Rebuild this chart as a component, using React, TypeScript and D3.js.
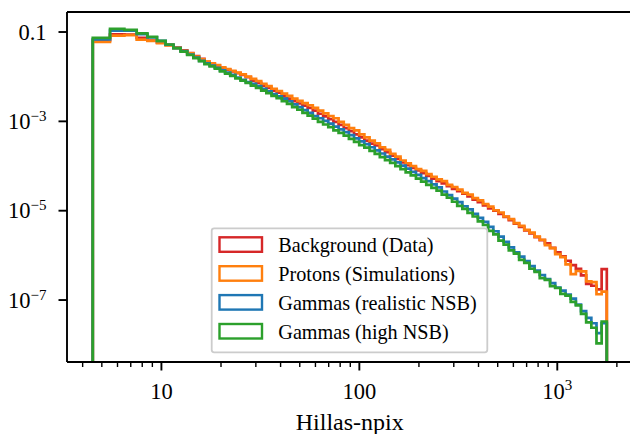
import React from 'react';
import * as d3 from 'd3';

// Bin edges of the Hillas-npix histogram (integer-wide bins at low npix, log-spaced above)
const binEdges = [4.5, 5.5, 6.5, 7.5, 8.5, 9.5, 10.5, 11.5, 12.5, 13.5, 14.5, 15.5, 16.5,
  17.52, 18.61, 19.76, 20.98, 22.27, 23.65, 25.11, 26.67, 28.32, 30.07, 31.93, 33.9, 36.0, 38.23,
  40.59, 43.1, 45.77, 48.6, 51.6, 54.8, 58.19, 61.79, 65.61, 69.67, 73.96, 78.54, 83.4, 88.56,
  94.03, 99.84, 106.0, 112.6, 119.6, 126.9, 134.8, 143.1, 152.0, 161.4, 171.4, 181.9, 193.2,
  205.1, 217.8, 231.3, 245.6, 260.8, 276.9, 294.0, 312.2, 331.5, 352.0, 373.8, 396.9, 421.4,
  447.5, 475.2, 504.6, 535.8, 568.9, 604.1, 641.5, 681.2, 723.3, 768.0, 815.5, 865.9, 919.5,
  976.3, 1036.7, 1100.8, 1168.9, 1241.2, 1317.9, 1399.4, 1485.9, 1577.8, 1675.4, 1779.0];

// log10 of the normalised counts per bin
const backgroundLog = [-1.19, -1.05, -1.06, -1.13, -1.19, -1.24, -1.29, -1.35, -1.41, -1.47, -1.54, -1.60,
  -1.67, -1.71, -1.75, -1.80, -1.84, -1.88, -1.92, -1.96, -2.01, -2.09,
  -2.14, -2.20, -2.25, -2.31, -2.36, -2.44, -2.49, -2.55, -2.60, -2.65,
  -2.70, -2.76, -2.83, -2.89, -2.95, -3.01, -3.08, -3.15, -3.22, -3.29,
  -3.36, -3.43, -3.50, -3.54, -3.62, -3.69, -3.77, -3.84, -3.92, -3.98,
  -4.04, -4.10, -4.16, -4.22, -4.28, -4.34, -4.39, -4.45, -4.51, -4.56,
  -4.62, -4.68, -4.75, -4.81, -4.88, -4.95, -5.00, -5.07, -5.14, -5.21,
  -5.29, -5.36, -5.44, -5.51, -5.59, -5.66, -5.73, -5.83, -5.93, -6.02,
  -6.12, -6.22, -6.30, -6.45, -6.64, -6.68, -6.76, -6.31];

const protonsLog = [-1.22, -1.08, -1.07, -1.17, -1.20, -1.25, -1.30, -1.36, -1.42, -1.48, -1.55, -1.61,
  -1.66, -1.70, -1.74, -1.79, -1.83, -1.87, -1.91, -1.95, -2.00, -2.05,
  -2.10, -2.16, -2.21, -2.27, -2.32, -2.38, -2.43, -2.49, -2.54, -2.59,
  -2.64, -2.70, -2.76, -2.82, -2.88, -2.93, -3.01, -3.08, -3.15, -3.20,
  -3.29, -3.36, -3.43, -3.49, -3.58, -3.64, -3.73, -3.79, -3.88, -3.94,
  -4.00, -4.07, -4.11, -4.18, -4.24, -4.30, -4.34, -4.42, -4.47, -4.53,
  -4.60, -4.64, -4.72, -4.77, -4.85, -4.91, -4.99, -5.04, -5.13, -5.19,
  -5.28, -5.34, -5.43, -5.49, -5.58, -5.65, -5.77, -5.84, -5.97, -6.04,
  -6.20, -6.42, -6.35, -6.36, -6.58, -6.60, -6.87, -6.81];

const gammaRealLog = [-1.165, -0.97, -0.97, -1.05, -1.12, -1.20, -1.285, -1.36, -1.43, -1.505, -1.575, -1.645,
  -1.70, -1.75, -1.80, -1.86, -1.91, -1.96, -2.02, -2.07, -2.12, -2.16,
  -2.21, -2.27, -2.33, -2.39, -2.44, -2.49, -2.55, -2.62, -2.68, -2.75,
  -2.81, -2.88, -2.93, -2.99, -3.05, -3.12, -3.18, -3.24, -3.31, -3.38,
  -3.45, -3.51, -3.58, -3.65, -3.72, -3.79, -3.85, -3.92, -3.99, -4.06,
  -4.13, -4.20, -4.27, -4.34, -4.41, -4.48, -4.57, -4.65, -4.73, -4.81,
  -4.90, -4.97, -5.07, -5.16, -5.25, -5.36, -5.46, -5.58, -5.70, -5.82,
  -5.93, -6.03, -6.13, -6.24, -6.34, -6.44, -6.53, -6.62, -6.72, -6.79,
  -6.88, -6.97, -7.10, -7.25, -7.40, -7.52, -7.74, -7.52];

const gammaHighLog = [-1.13, -0.93, -0.95, -1.03, -1.11, -1.20, -1.28, -1.36, -1.44, -1.515, -1.585, -1.655,
  -1.72, -1.77, -1.82, -1.88, -1.93, -1.98, -2.04, -2.09, -2.14, -2.20,
  -2.25, -2.31, -2.37, -2.43, -2.48, -2.55, -2.61, -2.68, -2.74, -2.81,
  -2.87, -2.94, -3.01, -3.07, -3.13, -3.20, -3.26, -3.32, -3.39, -3.46,
  -3.53, -3.59, -3.66, -3.73, -3.80, -3.87, -3.93, -4.00, -4.07, -4.14,
  -4.21, -4.28, -4.35, -4.42, -4.49, -4.55, -4.64, -4.71, -4.80, -4.89,
  -4.96, -5.05, -5.13, -5.24, -5.32, -5.45, -5.53, -5.67, -5.76, -5.89,
  -5.96, -6.10, -6.17, -6.30, -6.37, -6.51, -6.55, -6.69, -6.73, -6.86,
  -6.90, -7.04, -7.12, -7.31, -7.50, -7.62, -7.97, -7.48];

const seriesNames = ['Background (Data)', 'Protons (Simulations)', 'Gammas (realistic NSB)', 'Gammas (high NSB)'];
const seriesColors = ['#d62728', '#ff7f0e', '#1f77b4', '#2ca02c'];
const seriesLogValues = [backgroundLog, protonsLog, gammaRealLog, gammaHighLog];

const xMajorTicks = [10, 100, 1000];
const xMajorLabels = [['10', ''], ['100', ''], ['10', '3']];
const xMinorTicks = [4, 5, 6, 7, 8, 9, 20, 30, 40, 50, 60, 70, 80, 90, 200, 300, 400, 500, 600, 700, 800, 900, 2000];
const yMajorTicks = [1e-1, 1e-3, 1e-5, 1e-7];
const yMajorLabels = [['0.1', ''], ['10', '\u22123'], ['10', '\u22125'], ['10', '\u22127']];

const W = 630, H = 434;
const left = 67, right = 632.5, top = 12, bottom = 362;
const FONT = "'Liberation Serif', 'DejaVu Serif', serif";

export default function App() {
  const x = d3.scaleLog().domain([Math.pow(10, 0.523), Math.pow(10, 3.38)]).range([left, right]);
  const y = d3.scaleLog().domain([Math.pow(10, -8.387), Math.pow(10, -0.552)]).range([bottom, top]);

  const stepPath = (vals: number[]) => {
    let d = `M${x(binEdges[0])},${bottom + 6}`;
    vals.forEach((v, i) => {
      d += `V${y(Math.pow(10, v))}H${x(binEdges[i + 1])}`;
    });
    d += `V${bottom + 6}`;
    return d;
  };

  const legX = 211.7, legY = 228.3, legW = 275.6, legH = 124;
  const entryY0 = 237.3, entryDy = 28.9;

  return (
    <svg width={W} height={H} style={{ position: 'absolute', left: 0, top: 0, background: '#fff' }}
      fontFamily={FONT}>
      <defs>
        <clipPath id="plotclip">
          <rect x={left} y={top} width={right - left} height={bottom - top} />
        </clipPath>
      </defs>
      <rect x={0} y={0} width={W} height={H} fill="#fff" />
      <g clipPath="url(#plotclip)">
        {seriesLogValues.map((vals, i) => (
          <path key={i} d={stepPath(vals)} fill="none" stroke={seriesColors[i]} strokeWidth={2.7}
            strokeLinejoin="miter" />
        ))}
      </g>
      {/* spines */}
      <line x1={left} x2={left} y1={top} y2={bottom} stroke="#000" strokeWidth={1.9} />
      <line x1={left} x2={right} y1={bottom} y2={bottom} stroke="#000" strokeWidth={1.9} />
      <line x1={left} x2={right} y1={top} y2={top} stroke="#000" strokeWidth={1.9} />
      <line x1={right} x2={right} y1={top} y2={bottom} stroke="#000" strokeWidth={1.9} />
      {/* x ticks */}
      {xMinorTicks.map((t) => (
        <line key={'xm' + t} x1={x(t)} x2={x(t)} y1={bottom} y2={bottom + 5} stroke="#000" strokeWidth={1.4} />
      ))}
      {xMajorTicks.map((t, i) => (
        <g key={'xM' + t}>
          <line x1={x(t)} x2={x(t)} y1={bottom} y2={bottom + 8.5} stroke="#000" strokeWidth={1.9} />
          <text x={x(t)} y={399} fontSize={22.5} textAnchor="middle" fill="#000">
            {xMajorLabels[i][0]}
            {xMajorLabels[i][1] && (
              <tspan fontSize={15} dy={-9.5}>{xMajorLabels[i][1]}</tspan>
            )}
          </text>
        </g>
      ))}
      {/* y ticks */}
      {yMajorTicks.map((t, i) => (
        <g key={'yM' + t}>
          <line x1={left - 8.5} x2={left} y1={y(t)} y2={y(t)} stroke="#000" strokeWidth={1.9} />
          <text x={46.5} y={y(t) + 7.8} fontSize={22.5} textAnchor="end" fill="#000">
            {yMajorLabels[i][0]}
            {yMajorLabels[i][1] && (
              <tspan fontSize={15} dy={-8}>{yMajorLabels[i][1]}</tspan>
            )}
          </text>
        </g>
      ))}
      <text x={(left + right) / 2} y={430} fontSize={24} textAnchor="middle" fill="#000">Hillas-npix</text>
      {/* legend */}
      <rect x={legX} y={legY} width={legW} height={legH} rx={2.5} fill="#fff" fillOpacity={0.8}
        stroke="#cccccc" strokeWidth={1.8} />
      {seriesNames.map((name, i) => (
        <g key={name}>
          <rect x={219.5} y={entryY0 + i * entryDy} width={42.5} height={14.5} fill="none"
            stroke={seriesColors[i]} strokeWidth={2.4} />
          <text x={278.3} y={entryY0 + i * entryDy + 14.8} fontSize={20.2} fill="#000">{name}</text>
        </g>
      ))}
    </svg>
  );
}
